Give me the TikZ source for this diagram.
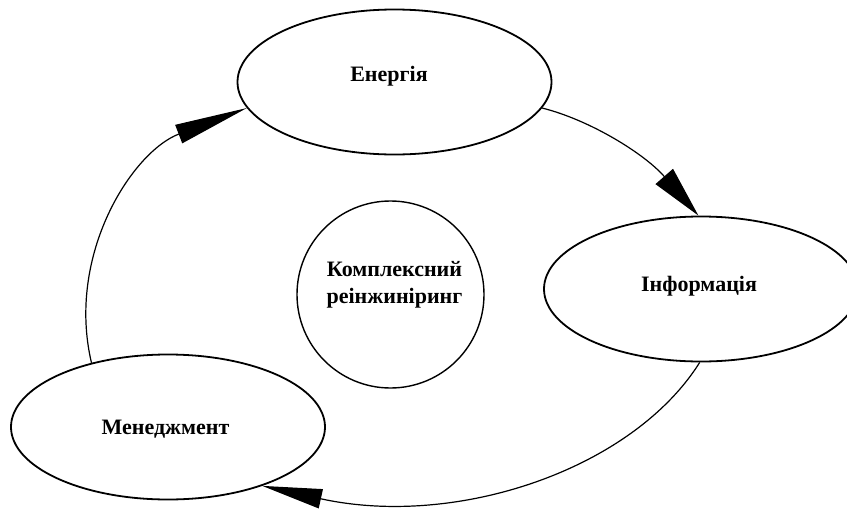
\documentclass[tikz,border=0pt]{standalone}
\usepackage{fontspec}
\setmainfont{Liberation Serif}
\usetikzlibrary{shapes.geometric,arrows.meta}

\tikzset{
  stage/.style={draw, ellipse, line width=1.8pt, minimum width=314pt, minimum height=145pt, inner sep=0pt},
  hub/.style={draw, circle, line width=1.4pt, minimum size=187pt, inner sep=0pt},
  caption/.style={font=\bfseries\fontsize{22}{26.7}\selectfont, align=center, inner sep=0pt, anchor=base},
  flow/.style={line width=1.2pt}
}

\begin{document}
\begin{tikzpicture}[x=1pt, y=-1pt]
  \useasboundingbox (0,0) rectangle (847,509);
  \clip (0,0) rectangle (847,509);

  % three stages of the cycle
  \node[stage] (en)  at (394.5,82)  {};
  \node[stage] (inf) at (701,289)   {};
  \node[stage] (men) at (168,427)   {};

  % central element
  \node[hub] (core) at (390.5,294.5) {};

  % captions
  \node[caption] (enT)  at (389,81.7)   {Енергія};
  \node[caption] (infT) at (699,291.7)  {Інформація};
  \node[caption] (menT) at (165.5,434)  {Менеджмент};
  \node[caption] (coreT1) at (394.5,276.7) {Комплексний};
  \node[caption] (coreT2) at (394.5,303.3) {реінжиніринг};

  % cycle connectors
  \draw[flow, -{Triangle[length=73pt,width=19.5pt]}]
    (men.140.6) .. controls (66,255) and (131.9,152) .. (en.190.1);
  \draw[flow, -{Triangle[length=52pt,width=23pt]}]
    (en.-10) .. controls (590,120) and (644.4,153.7) .. (inf.92.9);
  \draw[flow, -{Triangle[length=60pt,width=19.5pt]}]
    (inf.269) .. controls (632,470) and (455.9,528.5) .. (men.-32.7);
\end{tikzpicture}
\end{document}
